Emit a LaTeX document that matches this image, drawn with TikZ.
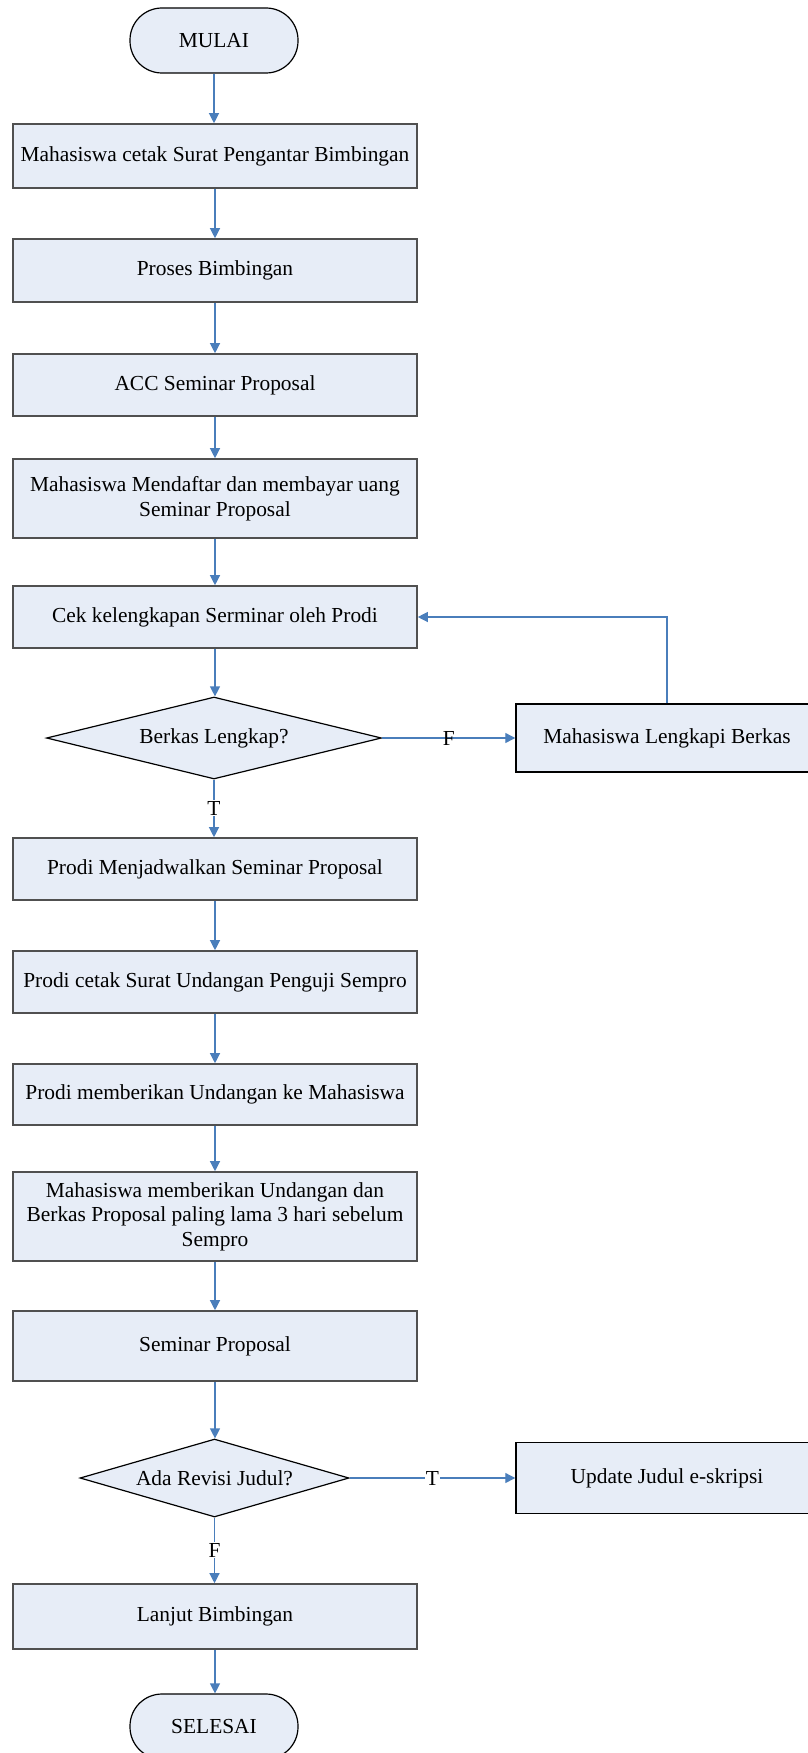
\documentclass[tikz,border=0pt]{standalone}
\usepackage{fontspec}
\setmainfont{Liberation Serif}
\usetikzlibrary{shapes.geometric,arrows.meta}
\definecolor{boxfill}{RGB}{231,237,247}
\definecolor{arrowblue}{RGB}{74,126,187}
\definecolor{boxline}{RGB}{80,80,80}
\begin{document}
\begin{tikzpicture}[x=1pt,y=-1pt,
  every node/.style={font=\fontsize{21.4}{24.5}\selectfont},
  proc/.style={rectangle,draw=boxline,line width=1.6pt,fill=boxfill,minimum width=404pt,align=center,inner sep=2pt},
  side/.style={rectangle,draw=black,line width=1.4pt,fill=boxfill,minimum width=302pt,align=center,inner sep=2pt},
  term/.style={rectangle,rounded corners=32pt,draw=black,line width=1.2pt,fill=boxfill,minimum width=168pt,minimum height=65pt},
  decision/.style={diamond,draw=black,line width=1.2pt,fill=boxfill,inner sep=0pt,shape aspect=4},
  flow/.style={draw=arrowblue,line width=1.2pt,-{Triangle[length=10pt,width=10pt]}},
  lbl/.style={fill=white,inner sep=1pt,text=black},
  lblnf/.style={inner sep=1pt,text=black}
]
\useasboundingbox (0,0) rectangle (808,1753);

\node[term] (start) at (214,40.5) {MULAI};
\node[proc,minimum height=64pt] (b1) at (215,156) {Mahasiswa cetak Surat Pengantar Bimbingan};
\node[proc,minimum height=63pt] (b2) at (215,270.5) {Proses Bimbingan};
\node[proc,minimum height=62pt] (b3) at (215,385) {ACC Seminar Proposal};
\node[proc,minimum height=79pt] (b4) at (215,498.5) {Mahasiswa Mendaftar dan membayar uang\\Seminar Proposal};
\node[proc,minimum height=62pt] (b5) at (215,617) {Cek kelengkapan Serminar oleh Prodi};
\node[decision,minimum width=335pt,minimum height=82pt] (d1) at (214,738) {Berkas Lengkap?};
\node[side,minimum height=68pt] (s1) at (667,738) {Mahasiswa Lengkapi Berkas};
\node[proc,minimum height=62pt] (b6) at (215,869) {Prodi Menjadwalkan Seminar Proposal};
\node[proc,minimum height=62pt] (b7) at (215,982) {Prodi cetak Surat Undangan Penguji Sempro};
\node[proc,minimum height=61pt] (b8) at (215,1094.5) {Prodi memberikan Undangan ke Mahasiswa};
\node[proc,minimum height=89pt] (b9) at (215,1216.5) {Mahasiswa memberikan Undangan dan\\Berkas Proposal paling lama 3 hari sebelum\\Sempro};
\node[proc,minimum height=70pt] (b10) at (215,1346) {Seminar Proposal};
\node[decision,minimum width=269pt,minimum height=78pt] (d2) at (214.5,1478) {Ada Revisi Judul?};
\node[side,minimum height=71pt] (s2) at (667,1478) {Update Judul e-skripsi};
\node[proc,minimum height=65pt] (b11) at (215,1616.5) {Lanjut Bimbingan};
\node[term] (end) at (214,1726.5) {SELESAI};

\draw[flow] (start.south) -- (start.south |- b1.north);
\draw[flow] (b1.south) -- (b2.north);
\draw[flow] (b2.south) -- (b3.north);
\draw[flow] (b3.south) -- (b4.north);
\draw[flow] (b4.south) -- (b5.north);
\draw[flow] (b5.south) -- (b5.south |- d1.north);
\draw[flow] (d1.south) -- node[lbl]{T} (d1.south |- b6.north);
\draw[flow] (d1.east) -- node[lblnf]{F} (s1.west);
\draw[flow] (s1.north) |- (b5.east);
\draw[flow] (b6.south) -- (b7.north);
\draw[flow] (b7.south) -- (b8.north);
\draw[flow] (b8.south) -- (b9.north);
\draw[flow] (b9.south) -- (b10.north);
\draw[flow] (b10.south) -- (b10.south |- d2.north);
\draw[flow] (d2.east) -- node[lbl]{T} (s2.west);
\draw[flow] (d2.south) -- node[lbl]{F} (d2.south |- b11.north);
\draw[flow] (b11.south) -- (b11.south |- end.north);
\end{tikzpicture}
\end{document}
